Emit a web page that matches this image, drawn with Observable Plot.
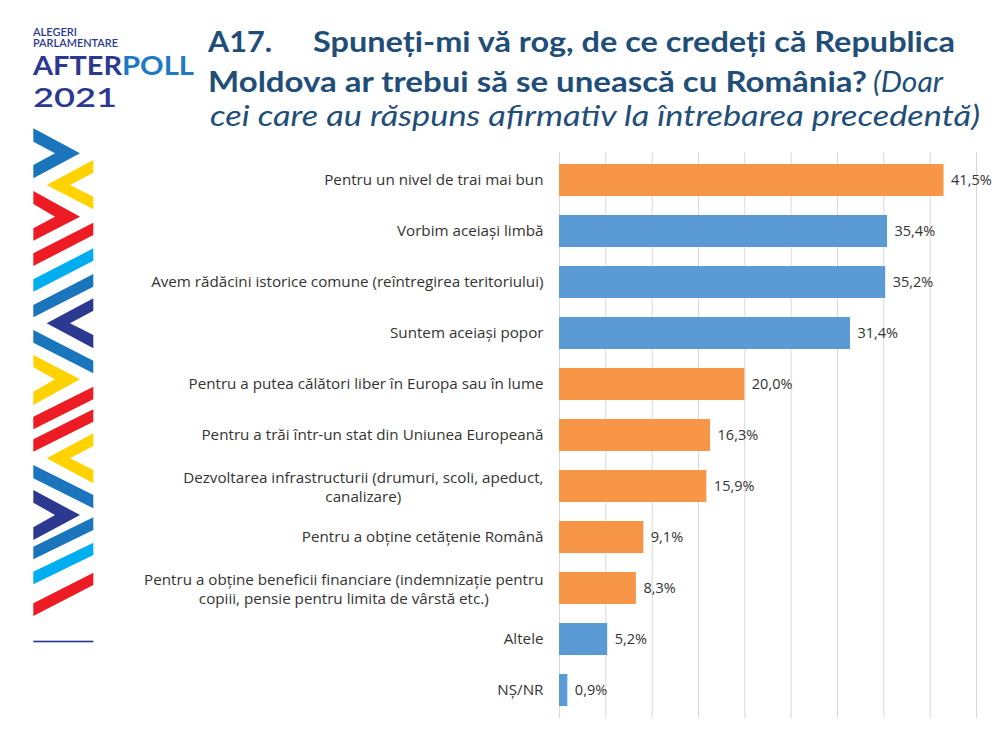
<!DOCTYPE html>
<html>
<head>
<meta charset="utf-8">
<script src="https://cdn.jsdelivr.net/npm/d3@7"></script>
<script src="https://cdn.jsdelivr.net/npm/@observablehq/plot@0.6"></script>
<style>
  html, body { margin: 0; padding: 0; background: #fff; }
  #page { position: relative; width: 1000px; height: 732px; overflow: hidden; background: #fff; font-family: Lato, "Open Sans", sans-serif; }
  #logo { position: absolute; left: 0; top: 0; }
  #stripes { position: absolute; left: 0; top: 120px; }
  #title { position: absolute; left: 0; top: 0; }
  #chart { position: absolute; left: 0; top: 140px; }
</style>
</head>
<body>
<div id="page">
  <svg id="logo" width="200" height="120" viewBox="0 0 200 120">
    <text x="33" y="36" font-size="11" font-weight="600" fill="#2B3990" textLength="44" lengthAdjust="spacingAndGlyphs">ALEGERI</text>
    <text x="33" y="47" font-size="11" font-weight="600" fill="#2B3990" textLength="85" lengthAdjust="spacingAndGlyphs">PARLAMENTARE</text>
    <text x="33" y="75" font-size="26" font-weight="700" fill="#2B3990" textLength="89" lengthAdjust="spacingAndGlyphs">AFTER</text>
    <text x="122" y="75" font-size="26" font-weight="700" fill="#1C7BC4" textLength="72" lengthAdjust="spacingAndGlyphs">POLL</text>
    <text x="33" y="107" font-size="26" font-weight="600" fill="#2B3990" textLength="84" lengthAdjust="spacingAndGlyphs">2021</text>
  </svg>
  <svg id="stripes" width="120" height="580" viewBox="0 0 360 1740">
    <polygon fill="#1B75BC" points="100,25 240,100 100,175 100,135 165,100 100,65"/>
    <polygon fill="#FFD200" points="280,120 140,195 280,268 280,230 210,195 280,158"/>
    <polygon fill="#ED1C24" points="100,213 240,290 100,362 100,325 165,290 100,252"/>
    <polygon fill="#ED1C24" points="100,400 280,308 280,345 100,438"/>
    <polygon fill="#00AEEF" points="100,478 280,385 280,422 100,515"/>
    <polygon fill="#1B75BC" points="100,555 280,462 280,500 100,592"/>
    <polygon fill="#2B3990" points="280,535 140,610 280,685 280,645 210,610 280,572"/>
    <polygon fill="#1B75BC" points="100,630 280,722 280,760 100,668"/>
    <polygon fill="#FFD200" points="100,705 240,778 100,855 100,815 165,778 100,742"/>
    <polygon fill="#ED1C24" points="100,890 280,800 280,838 100,928"/>
    <polygon fill="#ED1C24" points="100,958 280,868 280,905 100,995"/>
    <polygon fill="#FFD200" points="280,940 140,1015 280,1090 280,1050 210,1015 280,978"/>
    <polygon fill="#1B75BC" points="100,1035 280,1125 280,1165 100,1075"/>
    <polygon fill="#2B3990" points="100,1110 240,1185 100,1260 100,1222 165,1185 100,1148"/>
    <polygon fill="#1B75BC" points="100,1280 280,1192 280,1230 100,1318"/>
    <polygon fill="#00AEEF" points="100,1355 280,1268 280,1305 100,1393"/>
    <polygon fill="#ED1C24" points="100,1450 280,1358 280,1395 100,1488"/>
    <rect fill="#2B3990" x="100" y="1562" width="180" height="5"/>
  </svg>
  <svg id="title" width="1000" height="140" viewBox="0 0 1000 140">
    <g fill="#1F4E79" font-family="Lato, 'Open Sans', sans-serif" font-size="28">
      <text x="208" y="52" font-weight="700" textLength="64" lengthAdjust="spacingAndGlyphs">A17.</text>
      <text x="313" y="52" font-weight="700" textLength="642" lengthAdjust="spacingAndGlyphs">Spuneți-mi vă rog, de ce credeți că Republica</text>
      <text x="208" y="92" font-weight="700" textLength="659" lengthAdjust="spacingAndGlyphs">Moldova ar trebui să se unească cu România?</text>
      <text x="873" y="92" font-style="italic" textLength="70" lengthAdjust="spacingAndGlyphs">(Doar</text>
      <text x="210" y="126" font-style="italic" textLength="770" lengthAdjust="spacingAndGlyphs">cei care au răspuns afirmativ la întrebarea precedentă)</text>
    </g>
  </svg>
  <div id="chart"></div>
</div>
<script>
const categories = [
  "Pentru un nivel de trai mai bun",
  "Vorbim aceiași limbă",
  "Avem rădăcini istorice comune (reîntregirea teritoriului)",
  "Suntem aceiași popor",
  "Pentru a putea călători liber în Europa sau în lume",
  "Pentru a trăi într-un stat din Uniunea Europeană",
  "Dezvoltarea infrastructurii (drumuri, scoli, apeduct,\ncanalizare)",
  "Pentru a obține cetățenie Română",
  "Pentru a obține beneficii financiare (indemnizație pentru\ncopiii, pensie pentru limita de vârstă etc.)",
  "Altele",
  "NȘ/NR"
];
const values = [41.5, 35.4, 35.2, 31.4, 20.0, 16.3, 15.9, 9.1, 8.3, 5.2, 0.9];
const groups = ["economic", "identitar", "identitar", "identitar", "economic", "economic", "economic", "economic", "economic", "identitar", "identitar"];
const groupNames = ["economic", "identitar"];
const groupColors = ["#F79646", "#5B9BD5"];
const xTicks = [0, 5, 10, 15, 20, 25, 30, 35, 40, 45];

const data = categories.map((c, i) => ({category: c, value: values[i], group: groups[i]}));
const fmt = v => v.toFixed(1).replace(".", ",") + "%";

const FONT = "'Open Sans', Lato, sans-serif";
const FS = 15.2;
const LABEL_GAP = 16;
const ctx = document.createElement("canvas").getContext("2d");
ctx.font = `${FS}px 'Open Sans'`;
const maxLineWidth = s => Math.max(...s.split("\n").map(l => ctx.measureText(l).width));

const single = data.filter(d => !d.category.includes("\n"));
const multi = data.filter(d => d.category.includes("\n"));

const labelMarks = [
  Plot.text(single, {y: "category", text: "category", frameAnchor: "left", textAnchor: "end", dx: -LABEL_GAP, fill: "#333", fontSize: FS}),
  ...multi.map(d => Plot.text([d], {
    y: "category", text: "category", frameAnchor: "left", textAnchor: "middle",
    dx: -(LABEL_GAP + maxLineWidth(d.category) / 2), lineHeight: 1.27, fill: "#333", fontSize: FS
  }))
];

const chart = Plot.plot({
  width: 1000,
  height: 590,
  marginLeft: 559,
  marginRight: 24,
  marginTop: 12,
  marginBottom: 12,
  style: {fontFamily: FONT, fontSize: FS + "px", color: "#333", background: "transparent"},
  x: {domain: [0, 45], axis: null},
  y: {domain: categories, paddingInner: 0.38, paddingOuter: 0.19, axis: null},
  color: {domain: groupNames, range: groupColors},
  marks: [
    Plot.gridX(xTicks, {stroke: "#d9d9d9", strokeOpacity: 1, strokeWidth: 1}),
    Plot.barX(data, {x: "value", y: "category", fill: "group"}),
    Plot.text(data, {x: "value", y: "category", text: d => fmt(d.value), textAnchor: "start", dx: 7, fill: "#333", fontSize: 14.5}),
    ...labelMarks
  ]
});
document.getElementById("chart").appendChild(chart);
</script>
</body>
</html>
